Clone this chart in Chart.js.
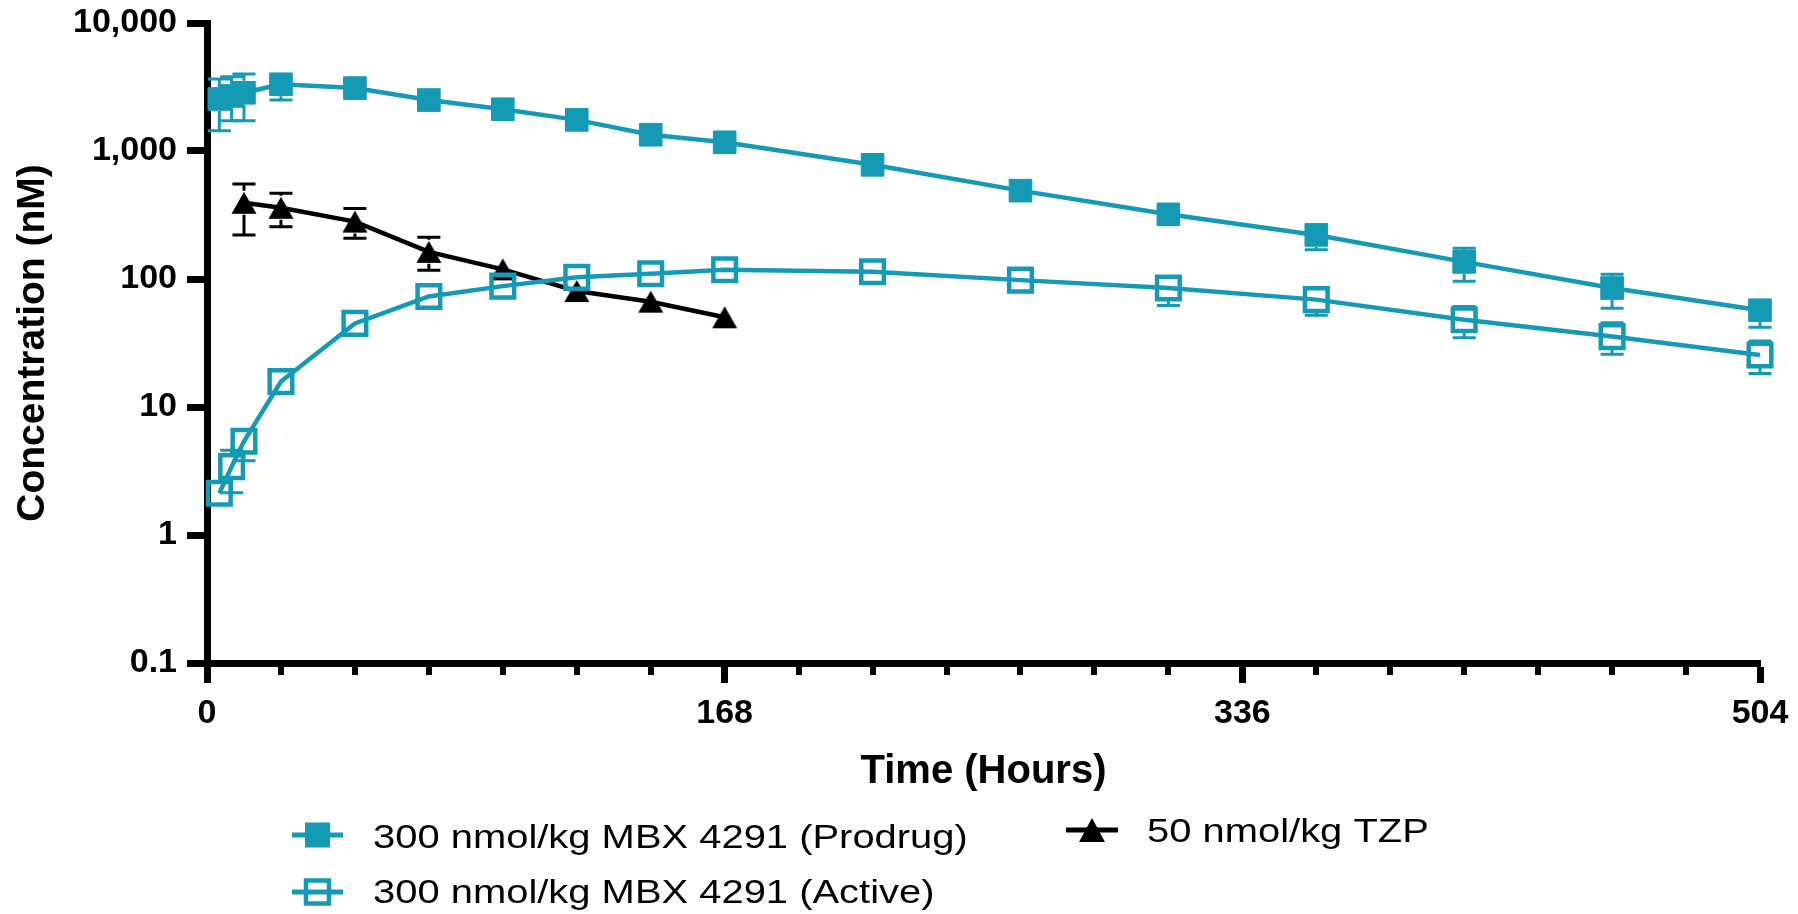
<!DOCTYPE html>
<html>
<head>
<meta charset="utf-8">
<title>MBX 4291 PK</title>
<script src="https://cdn.jsdelivr.net/npm/chart.js@4.4.1/dist/chart.umd.min.js"></script>
<style>
  html, body { margin: 0; padding: 0; background: #fff; }
  #wrap { width: 1798px; height: 914px; }
</style>
</head>
<body>
<div id="wrap"><canvas id="pkChart" width="1798" height="914"></canvas></div>
<script>
// temps de prélèvement (heures)
const hours = [4, 8, 12, 24, 48, 72, 96, 120, 144, 168, 216, 264, 312, 360, 408, 456, 504];
const tzpHours = [12, 24, 48, 72, 96, 120, 144, 168];

// concentrations moyennes (nM) + bornes des barres d'erreur (null = non visible)
const prodrug     = [2550, 2690, 2850, 3320, 3100, 2500, 2120, 1750, 1340, 1170, 780, 490, 320, 221, 136, 85, 57];
const prodrugLow  = [1440, 1725, 1725, 2500, null, null, null, null, null, null, null, null, null, 169, 96, 59, 42];
const prodrugHigh = [3650, 3800, 3990, null, null, null, null, null, null, null, null, null, null, null, 174, 109, null];

const active     = [2.12, 3.42, 5.4, 15.8, 45, 73, 88, 103, 110, 118, 114, 98, 85, 69, 48, 35.5, 25.5];
const activeLow  = [null, 2.14, 3.8, null, null, null, null, null, null, null, null, null, 62, 52, 34.7, 25.8, 18.3];
const activeHigh = [null, 4.6, null, null, null, null, null, null, null, null, null, null, null, null, 61, 45.6, 32.8];

const tzp     = [394, 360, 281, 163, 119, 80.5, 66.5, 50.2];
const tzpLow  = [221, 256, 208, 117, null, null, null, null];
const tzpHigh = [552, 467, 356, 212, null, null, null, null];

const seriesNames = [
    '300 nmol/kg MBX 4291 (Prodrug)',
    '300 nmol/kg MBX 4291 (Active)',
    '50 nmol/kg TZP'
];

const xTickValues = [0, 168, 336, 504];
const xMinorTicks = [24, 48, 72, 96, 120, 144, 192, 216, 240, 264, 288, 312, 360, 384, 408, 432, 456, 480];
const yTickValues = [0.1, 1, 10, 100, 1000, 10000];
const yTickLabels = ['0.1', '1', '10', '100', '1,000', '10,000'];

const TEAL = '#149ab4';
const FONT = '"Liberation Sans", Arial, Helvetica, sans-serif';

function makeTriangle(color) {
    const c = document.createElement('canvas');
    c.width = 28;
    c.height = 26;
    const g = c.getContext('2d');
    g.fillStyle = color;
    g.beginPath();
    g.moveTo(14, 2);
    g.lineTo(26.5, 24);
    g.lineTo(1.5, 24);
    g.closePath();
    g.fill();
    return c;
}

function points(xs, ys) {
    return xs.map((t, i) => ({ x: t, y: ys[i] }));
}

// barres d'erreur dessinées sous les courbes
const errorBars = {
    id: 'errorBars',
    beforeDatasetsDraw(chart) {
        const { ctx, scales: { x, y } } = chart;
        chart.data.datasets.forEach(ds => {
            if (!ds.errLow) return;
            ctx.save();
            ctx.strokeStyle = ds.borderColor;
            ctx.lineWidth = 3;
            ds.data.forEach((p, i) => {
                const px = x.getPixelForValue(p.x);
                const py = y.getPixelForValue(p.y);
                [ds.errLow[i], ds.errHigh[i]].forEach(v => {
                    if (v == null) return;
                    const ey = y.getPixelForValue(v);
                    const dir = ey > py ? 1 : -1;
                    const start = py + dir * 12;
                    ctx.beginPath();
                    if ((ey - start) * dir > 0) {
                        ctx.moveTo(px, start);
                        ctx.lineTo(px, ey);
                    }
                    ctx.moveTo(px - 11.5, ey);
                    ctx.lineTo(px + 11.5, ey);
                    ctx.stroke();
                });
            });
            ctx.restore();
        });
    }
};

// petites graduations de l'axe x (toutes les 24 h)
const minorTicks = {
    id: 'minorTicks',
    beforeDatasetsDraw(chart) {
        const { ctx, chartArea, scales: { x } } = chart;
        ctx.save();
        ctx.strokeStyle = '#000';
        ctx.lineWidth = 6;
        xMinorTicks.forEach(h => {
            const px = Math.round(x.getPixelForValue(h));
            ctx.beginPath();
            ctx.moveTo(px, chartArea.bottom);
            ctx.lineTo(px, chartArea.bottom + 12);
            ctx.stroke();
        });
        ctx.restore();
    }
};

// légende façon Prism (texte un peu étiré)
const prismLegend = {
    id: 'prismLegend',
    afterDraw(chart) {
        const ctx = chart.ctx;
        const items = [
            { label: seriesNames[0], color: TEAL, marker: 'filled', x0: 292, x1: 343, y: 835, tx: 373, base: 848 },
            { label: seriesNames[1], color: TEAL, marker: 'open', x0: 292, x1: 343, y: 892, tx: 373, base: 903 },
            { label: seriesNames[2], color: '#000', marker: 'tri', x0: 1066, x1: 1118, y: 830, tx: 1147, base: 842 }
        ];
        items.forEach(it => {
            ctx.save();
            ctx.strokeStyle = it.color;
            ctx.fillStyle = it.color;
            ctx.lineWidth = 5;
            ctx.beginPath();
            ctx.moveTo(it.x0, it.y);
            ctx.lineTo(it.x1, it.y);
            ctx.stroke();
            const cx = (it.x0 + it.x1) / 2;
            if (it.marker === 'filled') {
                ctx.fillRect(cx - 12.5, it.y - 12.5, 25, 25);
            } else if (it.marker === 'open') {
                ctx.lineWidth = 4.5;
                ctx.strokeRect(cx - 11.5, it.y - 11.5, 23, 23);
            } else {
                ctx.beginPath();
                ctx.moveTo(cx, it.y - 12);
                ctx.lineTo(cx + 13, it.y + 12);
                ctx.lineTo(cx - 13, it.y + 12);
                ctx.closePath();
                ctx.fill();
            }
            ctx.fillStyle = '#000';
            ctx.font = '33px ' + FONT;
            ctx.textBaseline = 'alphabetic';
            ctx.textAlign = 'left';
            ctx.translate(it.tx, it.base);
            ctx.scale(1.21, 1);
            ctx.fillText(it.label, 0, 0);
            ctx.restore();
        });
    }
};

const ctx = document.getElementById('pkChart').getContext('2d');
const pkChart = new Chart(ctx, {
    type: 'line',
    data: {
        datasets: [
            {
                label: seriesNames[0],
                data: points(hours, prodrug),
                errLow: prodrugLow,
                errHigh: prodrugHigh,
                borderColor: TEAL,
                backgroundColor: TEAL,
                borderWidth: 4.5,
                pointStyle: 'rect',
                pointRadius: 16,
                pointHoverRadius: 16,
                pointBorderWidth: 1,
                pointBackgroundColor: TEAL,
                tension: 0,
                clip: false
            },
            {
                label: seriesNames[1],
                data: points(hours, active),
                errLow: activeLow,
                errHigh: activeHigh,
                borderColor: TEAL,
                backgroundColor: 'rgba(0,0,0,0)',
                borderWidth: 4.5,
                pointStyle: 'rect',
                pointRadius: 16,
                pointHoverRadius: 16,
                pointBorderWidth: 4.5,
                pointBackgroundColor: 'rgba(0,0,0,0)',
                tension: 0,
                clip: false
            },
            {
                label: seriesNames[2],
                data: points(tzpHours, tzp),
                errLow: tzpLow,
                errHigh: tzpHigh,
                borderColor: '#000',
                backgroundColor: '#000',
                borderWidth: 4.5,
                pointStyle: makeTriangle('#000'),
                pointRadius: 13,
                pointHoverRadius: 13,
                tension: 0,
                clip: false
            }
        ]
    },
    options: {
        responsive: false,
        devicePixelRatio: 1,
        animation: false,
        events: [],
        layout: {
            padding: { top: 23, right: 38, bottom: 120, left: 0 }
        },
        plugins: {
            legend: { display: false },
            tooltip: { enabled: false }
        },
        scales: {
            x: {
                type: 'linear',
                min: 0,
                max: 504,
                afterBuildTicks: scale => {
                    scale.ticks = xTickValues.map(v => ({ value: v }));
                },
                afterFit: scale => {
                    scale.height = 131;
                    scale.paddingLeft = 0;
                    scale.paddingRight = 0;
                },
                ticks: {
                    color: '#000',
                    padding: 10,
                    maxRotation: 0,
                    font: { family: FONT, size: 34, weight: 'bold' },
                    callback: value => String(value)
                },
                grid: {
                    drawOnChartArea: false,
                    drawTicks: true,
                    tickLength: 20,
                    tickWidth: 7,
                    tickColor: '#000'
                },
                border: { display: true, color: '#000', width: 7 },
                title: {
                    display: true,
                    text: 'Time (Hours)',
                    color: '#000',
                    padding: { top: 0, bottom: 2 },
                    font: { family: FONT, size: 40, weight: 'bold', lineHeight: 1 }
                }
            },
            y: {
                type: 'logarithmic',
                min: 0.1,
                max: 10000,
                afterBuildTicks: scale => {
                    scale.ticks = yTickValues.map(v => ({ value: v }));
                },
                afterFit: scale => {
                    scale.width = 207;
                    scale.paddingTop = 0;
                    scale.paddingBottom = 0;
                },
                ticks: {
                    color: '#000',
                    padding: 10,
                    font: { family: FONT, size: 34, weight: 'bold' },
                    callback: value => yTickLabels[yTickValues.indexOf(value)]
                },
                grid: {
                    drawOnChartArea: false,
                    drawTicks: true,
                    tickLength: 20,
                    tickWidth: 7,
                    tickColor: '#000'
                },
                border: { display: true, color: '#000', width: 7 },
                title: {
                    display: true,
                    text: 'Concentration (nM)',
                    color: '#000',
                    padding: { top: 14, bottom: 0 },
                    font: { family: FONT, size: 39, weight: 'bold', lineHeight: 1 }
                }
            }
        }
    },
    plugins: [errorBars, minorTicks, prismLegend]
});
</script>
</body>
</html>
